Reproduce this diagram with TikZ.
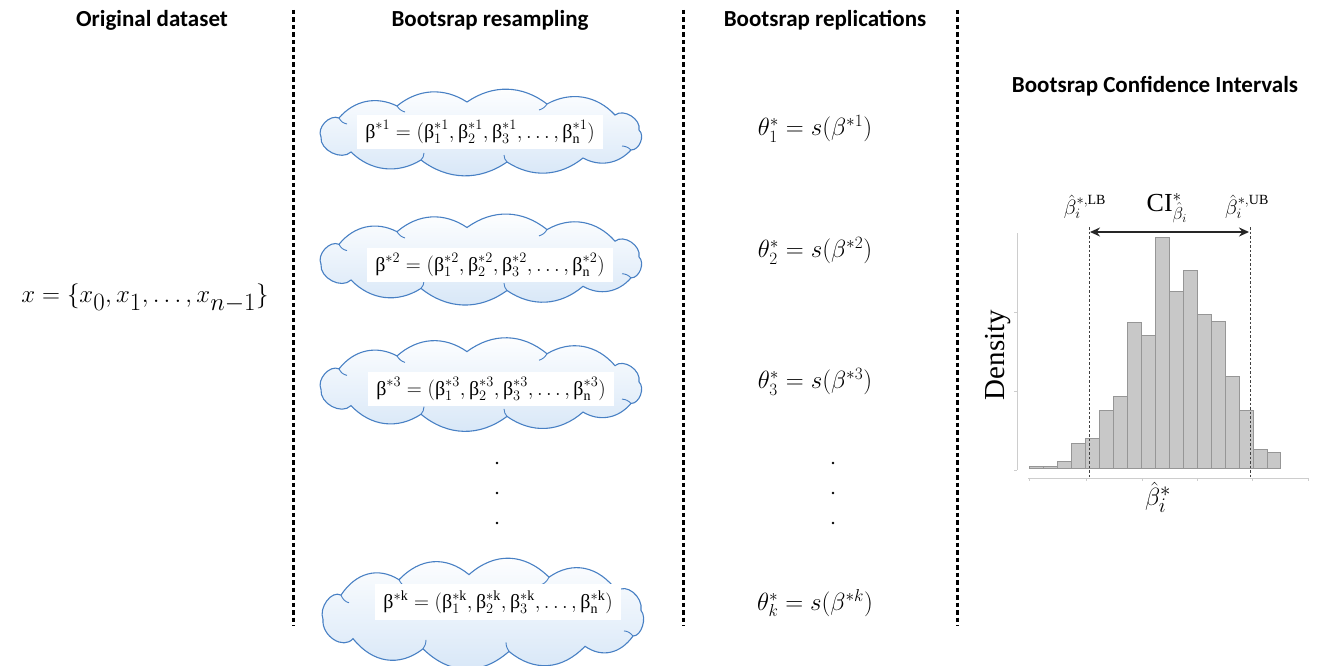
\documentclass[tikz,border=0pt]{standalone}
\usepackage{fontspec}
\usepackage{graphicx}
\setmainfont{Liberation Serif}
\newfontfamily\hdrfont{Carlito}
\usetikzlibrary{arrows.meta}
\definecolor{cloudline}{RGB}{72,128,196}
\definecolor{cloudfill}{RGB}{214,230,247}
\definecolor{barfill}{RGB}{200,200,200}
\definecolor{baredge}{RGB}{150,150,150}
\definecolor{axisgray}{RGB}{205,205,205}
\newcommand{\ub}{\mbox{β}}
% custom cloud outline: centre x, centre y, vertical scale
\newcommand{\mycloud}[3]{%
  \begin{scope}[shift={(#1,#2)}, yscale=#3]
  \shade[cloudshape] (-158,5) to[bend left=70] (-140,-14)
     to[bend left=38] (-82,-26) to[bend left=36] (-12,-30)
     to[bend left=36] (68,-28) to[bend left=38] (136,-17)
     to[bend left=70] (160,-2) to[bend left=70] (152,18)
     to[bend left=38] (104,26) to[bend left=36] (28,30)
     to[bend left=36] (-58,28) to[bend left=38] (-128,20)
     to[bend left=70] cycle;
  \draw[cloudline, line width=0.9pt] (-140,-14) to[bend right=25] (-132,-8);
  \draw[cloudline, line width=0.9pt] (-82,-26) to[bend right=20] (-74,-20);
  \draw[cloudline, line width=0.9pt] (68,-28) to[bend left=20] (60,-22);
  \draw[cloudline, line width=0.9pt] (152,18) to[bend right=20] (143,14);
  \draw[cloudline, line width=0.9pt] (28,30) to[bend left=20] (25,23);
  \draw[cloudline, line width=0.9pt] (-58,28) to[bend right=20] (-55,21);
  \end{scope}}
\tikzset{
  hdr/.style={font=\hdrfont\bfseries\fontsize{23}{26}\selectfont, inner sep=0pt},
  sep/.style={line width=3pt, dash pattern=on 4.5pt off 3pt},
  cloudshape/.style={draw=cloudline, line width=1.1pt, top color=white, bottom color=cloudfill},
  cloudtext/.style={fill=white, inner xsep=8pt, inner ysep=6pt, font=\fontsize{20}{24}\selectfont},
  rep/.style={font=\fontsize{24}{28}\selectfont, inner sep=0pt},
  dotn/.style={circle, fill=black, inner sep=0pt, minimum size=2.6pt},
  bar/.style={fill=barfill, draw=baredge, line width=0.6pt},
}
\begin{document}
\begin{tikzpicture}[x=1pt,y=-1pt]
\useasboundingbox (0,0) rectangle (1319,666);
% headers
\node[hdr] (h1) at (152,20) {Original dataset};
\node[hdr] (h2) at (490,20) {Bootsrap resampling};
\node[hdr] (h3) at (825,20) {Bootsrap replications};
\node[hdr] (h4) at (1155,86) {Bootsrap Confidence Intervals};
% separators
\coordinate (s1t) at (293,10); \coordinate (s1b) at (293,626);
\coordinate (s2t) at (683,10); \coordinate (s2b) at (683,626);
\coordinate (s3t) at (957,10); \coordinate (s3b) at (957,626);
\draw[sep] (s1t) -- (s1b);
\draw[sep] (s2t) -- (s2b);
\draw[sep] (s3t) -- (s3b);
% original dataset
\node[font=\fontsize{36}{42}\selectfont, inner sep=0pt] (x) at (145,298) {$x=\{x_0,x_1,\dots,x_{n-1}\}$};
% clouds
\mycloud{479}{132}{1.0}
\node[cloudtext] (t1) at (480,132) {$\ub^{*1}=(\ub_1^{*1},\ub_2^{*1},\ub_3^{*1},\dots,\ub_{\mathrm{n}}^{*1})$};
\mycloud{479}{259}{1.05}
\node[cloudtext] (t2) at (490,265) {$\ub^{*2}=(\ub_1^{*2},\ub_2^{*2},\ub_3^{*2},\dots,\ub_{\mathrm{n}}^{*2})$};
\mycloud{479}{384}{1.08}
\node[cloudtext] (t3) at (491,389) {$\ub^{*3}=(\ub_1^{*3},\ub_2^{*3},\ub_3^{*3},\dots,\ub_{\mathrm{n}}^{*3})$};
\mycloud{481}{613}{1.28}
\node[cloudtext] (t4) at (498,602) {$\ub^{*\mathrm{k}}=(\ub_1^{*\mathrm{k}},\ub_2^{*\mathrm{k}},\ub_3^{*\mathrm{k}},\dots,\ub_{\mathrm{n}}^{*\mathrm{k}})$};
\node[dotn] (d1) at (497,463) {};
\node[dotn] (d2) at (497,493) {};
\node[dotn] (d3) at (497,523) {};
% replications
\node[rep] (r1) at (815,129) {$\theta_1^*=s(\beta^{*1})$};
\node[rep] (r2) at (815,251) {$\theta_2^*=s(\beta^{*2})$};
\node[rep] (r3) at (815,382) {$\theta_3^*=s(\beta^{*3})$};
\node[rep] (r4) at (815,603) {$\theta_k^*=s(\beta^{*k})$};
\node[dotn] (e1) at (833,463) {};
\node[dotn] (e2) at (833,493) {};
\node[dotn] (e3) at (833,523) {};
% histogram axes
\draw[axisgray, line width=0.8pt] (1017,233) -- (1017,470);
\draw[axisgray, line width=0.8pt] (1014,312) -- (1017,312) (1014,391) -- (1017,391) (1014,470) -- (1017,470);
\draw[axisgray, line width=0.8pt] (1028,478) -- (1308,478);
\foreach \t in {1029,1086,1142,1197,1252,1308} \draw[axisgray, line width=0.8pt] (\t,478) -- (\t,481);
% bars
\foreach \top [count=\i from 0] in {466,466,461,443.3,438.7,410,396.7,322.7,335.7,237.3,291.7,270.7,314.7,321.3,376.7,410,449.3,452.7}
  \draw[bar] ({1029.3+13.97*\i},468) rectangle ({1029.3+13.97*(\i+1)},\top);
% CI lines
\coordinate (lbT) at (1089,227); \coordinate (lbB) at (1089,478);
\coordinate (ubT) at (1250,227); \coordinate (ubB) at (1250,478);
\draw[black!75, line width=0.8pt, dash pattern=on 2.5pt off 2pt] (lbT) -- (lbB);
\draw[black!75, line width=0.8pt, dash pattern=on 2.5pt off 2pt] (ubT) -- (ubB);
\coordinate (al) at (1090,232); \coordinate (ar) at (1249,232);
\draw[line width=2pt, black!85, {Stealth[length=10pt,width=9pt]}-{Stealth[length=10pt,width=9pt]}] (al) -- (ar);
\node[font=\fontsize{20}{24}\selectfont, inner sep=0pt] (lb) at (1085,207) {$\hat{\beta}_i^{*,\mathrm{LB}}$};
\node[font=\fontsize{20}{24}\selectfont, inner sep=0pt] (ub) at (1247,207) {$\hat{\beta}_i^{*,\mathrm{UB}}$};
\node[font=\fontsize{26}{30}\selectfont, inner sep=0pt] (ci) at (1167,208) {$\mathrm{CI}^*_{\hat{\beta}_i}$};
\node[font=\fontsize{29}{34}\selectfont, inner sep=0pt, rotate=90] (dens) at (998,355) {Density};
\node[font=\fontsize{28}{32}\selectfont, inner sep=0pt] (xl) at (1158,497) {$\hat{\beta}_i^*$};
\end{tikzpicture}
\end{document}
